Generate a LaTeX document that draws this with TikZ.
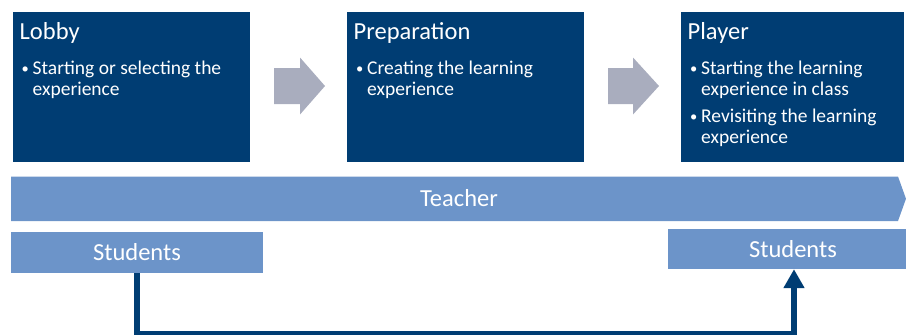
\documentclass[tikz,border=0pt]{standalone}
\usepackage{fontspec}
\setmainfont{Carlito}
\usetikzlibrary{arrows.meta}
\definecolor{navy}{RGB}{0,61,115}
\definecolor{lightblue}{RGB}{108,148,201}
\definecolor{arrowgrey}{RGB}{169,173,190}
\newcommand{\bitem}[1]{\makebox[11pt][l]{\raisebox{0.6pt}{\fontsize{14.5}{14.5}\selectfont\textbullet}}\parbox[t]{220pt}{\raggedright #1}}
\tikzset{
  darkbox/.style={fill=navy, draw=none, inner sep=0pt, anchor=north west},
  lightbox/.style={fill=lightblue, draw=none, inner sep=0pt},
  titletext/.style={text=white, inner sep=0pt, anchor=base west, font=\fontsize{24.5}{29}\selectfont},
  bullettext/.style={text=white, inner sep=0pt, anchor=base west, font=\fontsize{19.5}{21}\selectfont},
  bartext/.style={text=white, inner sep=0pt, font=\fontsize{24.5}{29}\selectfont},
  blockarrow/.style={fill=arrowgrey, draw=none},
  conn/.style={draw=navy, line width=5.5pt, -{Triangle[width=20pt,length=19pt]}}
}
\begin{document}
\begin{tikzpicture}[x=1pt,y=-1pt]
\useasboundingbox (0,0) rectangle (906,335);
% top boxes
\node[darkbox, minimum width=237pt, minimum height=150pt] (lobby) at (13,12) {};
\node[darkbox, minimum width=237pt, minimum height=150pt] (prep) at (347,12) {};
\node[darkbox, minimum width=223pt, minimum height=150pt] (player) at (681,12) {};
% titles
\node[titletext] (lobbyt) at (19.5,39) {Lobby};
\node[titletext] (prept) at (353.5,39) {Preparation};
\node[titletext] (playert) at (687.5,39) {Player};
% bullets
\node[bullettext] (lobbyb) at (21.5,74) {\bitem{Starting or selecting the\\experience}};
\node[bullettext] (prepb) at (356,74) {\bitem{Creating the learning\\experience}};
\node[bullettext] (playerb1) at (690,74) {\bitem{Starting the learning\\experience in class}};
\node[bullettext] (playerb2) at (690,122) {\bitem{Revisiting the learning\\experience}};
% block arrows
\fill[blockarrow] (274,68) -- (300,68) -- (300,57.5) -- (325,86) -- (300,114.5) -- (300,104) -- (274,104) -- cycle;
\fill[blockarrow] (608,68) -- (633,68) -- (633,57.5) -- (659,86) -- (633,114.5) -- (633,104) -- (608,104) -- cycle;
% teacher bar
\fill[lightblue] (11,176.5) -- (898,176.5) -- (906,198.75) -- (898,221) -- (11,221) -- cycle;
\node[bartext] (teacher) at (459,198.5) {Teacher};
% students
\node[lightbox, minimum width=252pt, minimum height=41pt] (s1) at (137,252.5) {};
\node[bartext] (s1t) at (137,252.5) {Students};
\node[lightbox, minimum width=238pt, minimum height=40pt] (s2) at (787,249) {};
\node[bartext] (s2t) at (793,249.5) {Students};
% connector
\coordinate (c) at (794,333.5);
\draw[conn] (s1.south) |- (c) -- (c |- s2.south);
\end{tikzpicture}
\end{document}
